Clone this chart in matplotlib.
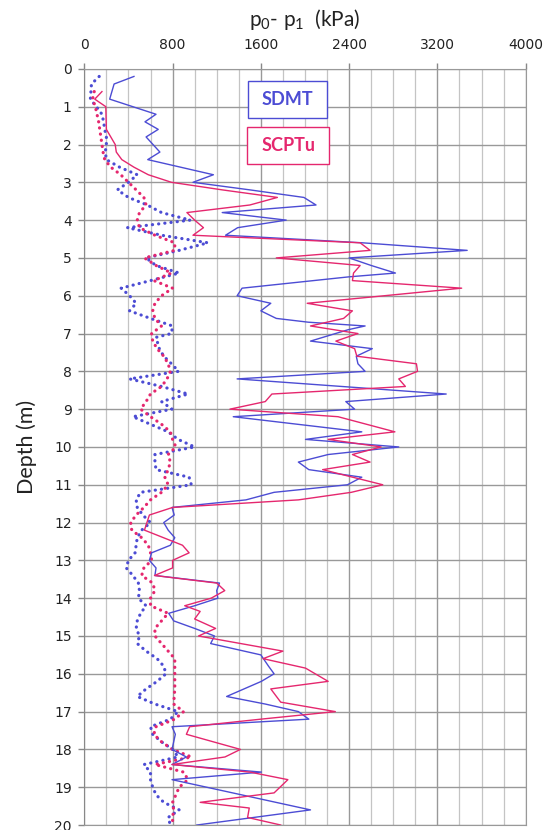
import numpy as np
import matplotlib
matplotlib.use('Agg')
import matplotlib.pyplot as plt
from matplotlib.patches import Rectangle
from matplotlib.ticker import MultipleLocator

plt.rcParams['mathtext.fontset'] = 'custom'
plt.rcParams['mathtext.rm'] = 'Lato'
plt.rcParams['mathtext.it'] = 'Lato'

# SDMT p1 (solid blue)
sdmt_p1_depth = [0.2, 0.4, 0.8, 1.2, 1.4, 1.6, 1.8, 2.2, 2.4, 2.8, 3.0, 3.2, 3.4, 3.6, 3.8,
                 4.0, 4.2, 4.4, 4.6, 4.8, 5.0, 5.2, 5.4, 5.5, 5.8, 6.0, 6.2, 6.4, 6.6, 6.7,
                 6.8, 6.9, 7.2, 7.4, 7.6, 7.8, 8.0, 8.2, 8.6, 8.8, 9.0, 9.2, 9.6, 9.8, 10.0,
                 10.2, 10.4, 10.6, 10.8, 11.0, 11.2, 11.4, 11.6, 11.8, 12.0, 12.2, 12.4, 12.6,
                 12.8, 13.0, 13.2, 13.4, 13.6, 13.8, 14.0, 14.2, 14.4, 14.6, 14.8, 15.0, 15.2,
                 15.5, 15.8, 16.0, 16.2, 16.6, 16.8, 17.0, 17.2, 17.4, 17.6, 17.8, 18.0, 18.2,
                 18.4, 18.6, 18.8, 19.6, 20.0]
sdmt_p1 = [450, 270, 230, 650, 550, 670, 560, 685, 575, 1170, 985, 1500, 1990, 2100, 1250,
           1830, 1390, 1280, 2520, 3470, 2400, 2600, 2820, 2400, 1430, 1385, 1690, 1600, 1740, 2030,
           2545, 2390, 2050, 2610, 2465, 2480, 2545, 1385, 3280, 2370, 2450, 1350, 2515, 2005, 2850,
           2210, 1940, 2035, 2515, 2385, 1720, 1465, 795, 815, 720, 760, 820, 780,
           610, 590, 650, 640, 1225, 1200, 1210, 1000, 765, 810, 1000, 1180, 1145,
           1600, 1670, 1720, 1605, 1290, 1640, 1940, 2035, 795, 825, 810, 795, 925,
           795, 1605, 795, 2050, 1020]

# SCPTu p1 (solid pink)
scptu_p1_depth = [0.6, 0.8, 1.0, 1.6, 1.8, 2.0, 2.2, 2.4, 2.6, 2.8, 3.0, 3.2, 3.4, 3.6, 3.8,
                  4.0, 4.2, 4.4, 4.6, 4.8, 5.0, 5.2, 5.4, 5.6, 5.8, 6.2, 6.4, 6.6, 6.8, 7.0,
                  7.2, 7.4, 7.6, 7.8, 8.0, 8.2, 8.4, 8.6, 8.8, 9.0, 9.2, 9.6, 9.8, 10.0, 10.2,
                  10.4, 10.6, 11.0, 11.2, 11.4, 11.6, 11.8, 12.2, 12.6, 12.8, 13.0, 13.2, 13.4,
                  13.6, 13.8, 14.0, 14.2, 14.35, 14.55, 14.8, 15.0, 15.4, 15.6, 15.85, 16.2,
                  16.4, 16.75, 17.0, 17.2, 17.4, 17.6, 18.0, 18.2, 18.4, 18.6, 18.8, 19.15,
                  19.4, 19.55, 19.8, 20.0]
scptu_p1 = [160, 95, 195, 200, 240, 280, 290, 340, 450, 580, 790, 1250, 1750, 1500, 930,
            1000, 1080, 985, 2500, 2590, 1740, 2500, 2440, 2430, 3420, 2020, 2430, 2350, 2050, 2480,
            2280, 2450, 2470, 3010, 3020, 2850, 2910, 1700, 1640, 1320, 2300, 2815, 2210, 2690, 2430,
            2590, 2160, 2705, 2420, 1940, 800, 590, 545, 890, 950, 800, 800, 636,
            1200, 1273, 1150, 910, 1050, 1000, 1190, 1035, 1800, 1620, 2005, 2210,
            1690, 1780, 2275, 1600, 955, 925, 1415, 1275, 795, 1500, 1845, 1720,
            1050, 1495, 1480, 1780]

# SDMT p0 (dotted blue)
sdmt_p0_depth = [0.2, 0.4, 0.8, 1.0, 1.2, 1.4, 1.6, 1.8, 2.0, 2.2, 2.4, 2.6, 2.8, 3.0, 3.2,
                 3.4, 3.6, 3.8, 4.0, 4.2, 4.4, 4.6, 4.8, 5.0, 5.2, 5.4, 5.6, 5.8, 6.0, 6.2,
                 6.4, 6.6, 6.8, 7.0, 7.1, 7.4, 7.6, 7.8, 8.0, 8.2, 8.4, 8.6, 8.8, 9.0, 9.2,
                 9.4, 9.6, 9.8, 10.0, 10.2, 10.4, 10.6, 10.8, 11.0, 11.2, 11.4, 11.6, 11.8,
                 12.0, 12.2, 12.4, 12.6, 12.8, 13.0, 13.2, 13.4, 13.6, 13.8, 14.0, 14.2,
                 14.4, 14.6, 14.8, 15.0, 15.2, 15.4, 15.6, 15.8, 16.0, 16.2, 16.4, 16.6,
                 16.8, 17.0, 17.2, 17.4, 17.6, 17.8, 18.0, 18.2, 18.4, 18.6, 18.8, 19.0,
                 19.2, 19.4, 19.6, 19.8, 20.0]
sdmt_p0 = [135, 65, 55, 110, 160, 175, 185, 200, 200, 190, 200, 320, 480, 400, 300,
           400, 570, 700, 960, 390, 700, 1120, 860, 560, 650, 860, 600, 334, 410, 470,
           410, 600, 800, 790, 650, 680, 720, 790, 855, 410, 700, 940, 700, 795, 440,
           600, 760, 850, 1000, 640, 640, 650, 950, 970, 510, 470, 480, 530,
           600, 520, 480, 470, 460, 400, 380, 440, 490, 500, 490, 560,
           510, 480, 470, 500, 480, 560, 660, 720, 740, 660, 560, 480,
           640, 850, 780, 600, 620, 700, 800, 850, 540, 600, 600, 620,
           650, 720, 860, 760, 780]

# SCPTu p0 (dotted pink)
scptu_p0_depth = [0.6, 0.8, 1.0, 1.4, 1.8, 2.2, 2.4, 2.6, 2.8, 3.0, 3.2, 3.4, 3.6, 3.8, 4.0,
                  4.2, 4.4, 4.6, 4.8, 5.0, 5.2, 5.4, 5.6, 5.8, 6.0, 6.2, 6.4, 6.6, 6.8, 7.0,
                  7.2, 7.4, 7.6, 7.8, 8.0, 8.2, 8.4, 8.6, 8.8, 9.0, 9.2, 9.4, 9.6, 9.8, 10.0,
                  10.2, 10.4, 10.6, 10.8, 11.0, 11.2, 11.4, 11.6, 11.8, 12.0, 12.2, 12.4,
                  12.6, 12.8, 13.0, 13.2, 13.4, 13.6, 13.8, 14.0, 14.2, 14.4, 14.6, 14.8,
                  15.0, 15.2, 15.4, 15.6, 16.0, 16.4, 16.8, 17.0, 17.2, 17.4, 17.6, 17.8,
                  18.0, 18.2, 18.4, 18.6, 18.8, 19.0, 19.2, 19.4, 19.6, 19.8, 20.0]
scptu_p0 = [90, 75, 100, 130, 150, 170, 185, 240, 330, 400, 470, 540, 560, 500, 480,
            500, 640, 820, 820, 545, 650, 790, 630, 800, 700, 640, 620, 640, 700, 610,
            620, 660, 720, 760, 780, 750, 700, 600, 560, 510, 600, 700, 780, 800, 830,
            760, 780, 760, 730, 760, 700, 600, 540, 470, 420, 430, 520,
            580, 600, 610, 540, 520, 620, 640, 600, 600, 760, 700, 640,
            640, 700, 760, 820, 820, 820, 810, 900, 820, 650, 630, 700,
            800, 970, 640, 900, 940, 860, 830, 800, 810, 800, 800]

x_ticks = [0, 800, 1600, 2400, 3200, 4000]
y_ticks = list(range(0, 21))

BLUE = '#4c4cd4'
PINK = '#e5276e'

fig = plt.figure(figsize=(5.51, 8.30), dpi=100)
ax = fig.add_axes([0.153, 0.006, 0.801, 0.911])

ax.set_xlim(0, 4000)
ax.set_ylim(20, 0)

# grid: fine vertical lines every 200 kPa, heavier every 800 kPa and every metre
ax.xaxis.set_minor_locator(MultipleLocator(200))
ax.set_xticks(x_ticks)
ax.set_yticks(y_ticks)
ax.grid(True, which='major', axis='both', color='#999999', lw=1.0)
ax.grid(True, which='minor', axis='x', color='#c4c4c4', lw=0.9)
ax.set_axisbelow(True)

# dotted p0 series
dot_kw = dict(lw=2.3, linestyle=(0, (0.05, 1.9)), dash_capstyle='round')
ax.plot(sdmt_p0, sdmt_p0_depth, color=BLUE, **dot_kw)
ax.plot(scptu_p0, scptu_p0_depth, color=PINK, **dot_kw)
# solid p1 series
ax.plot(sdmt_p1, sdmt_p1_depth, color=BLUE, lw=1.0)
ax.plot(scptu_p1, scptu_p1_depth, color=PINK, lw=1.0)

# axes styling
ax.xaxis.tick_top()
ax.xaxis.set_label_position('top')
ax.tick_params(axis='x', which='major', length=4, width=1, color='#888888',
               labelsize=10, pad=8, labelcolor='#222222')
ax.tick_params(axis='x', which='minor', length=0)
ax.tick_params(axis='y', length=4, width=1, color='#888888', labelsize=10, pad=5,
               labelcolor='#222222')
for side in ['top', 'left', 'right', 'bottom']:
    ax.spines[side].set_color('#999999')
ax.spines['left'].set_color('#888888')

ax.set_xlabel(r'p$_0$- p$_1$  (kPa)', fontsize=15, labelpad=9,
              family=['Lato', 'DejaVu Sans'], color='#222222')
ax.set_ylabel('Depth (m)', fontsize=15.5, labelpad=12,
              family=['Lato', 'DejaVu Sans'], color='#222222')

# framed labels acting as the legend
ax.add_patch(Rectangle((0.371, 0.935), 0.179, 0.049, transform=ax.transAxes,
                       fc='white', ec=BLUE, lw=1.0, zorder=5))
ax.add_patch(Rectangle((0.369, 0.874), 0.186, 0.049, transform=ax.transAxes,
                       fc='white', ec=PINK, lw=1.0, zorder=5))
ax.text(0.4605, 0.9595, 'SDMT', transform=ax.transAxes, ha='center', va='center',
        fontsize=13, fontweight='bold', color=BLUE, family=['Lato', 'DejaVu Sans'], zorder=6)
ax.text(0.462, 0.8985, 'SCPTu', transform=ax.transAxes, ha='center', va='center',
        fontsize=13, fontweight='bold', color=PINK, family=['Lato', 'DejaVu Sans'], zorder=6)

fig.savefig('out.png', dpi=100)
